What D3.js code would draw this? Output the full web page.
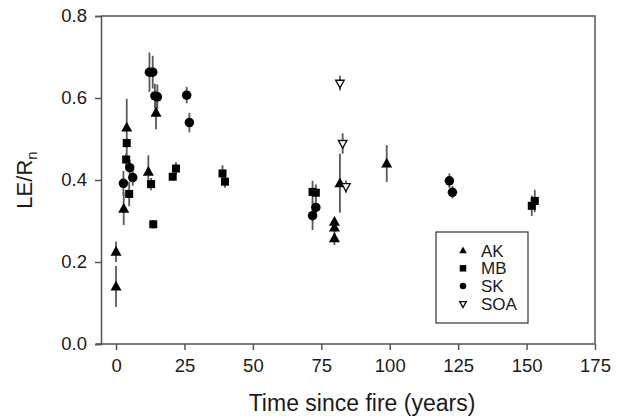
<!DOCTYPE html>
<html>
<head>
<meta charset="utf-8">
<script src="https://cdn.jsdelivr.net/npm/d3@7"></script>
<style>
  html, body { margin: 0; padding: 0; background: #fff; }
  svg { display: block; font-family: "Liberation Sans", Arial, sans-serif; }
</style>
</head>
<body>
<svg id="chart" width="625" height="418"></svg>
<script>
// ---- Data (time since fire in years, LE/Rn, standard error) ----
const akTime  = [0, 0, 2.8, 3.9, 11.8, 14.6, 79.8, 79.8, 79.8, 81.8, 98.9];
const akValue = [0.225, 0.14, 0.33, 0.528, 0.42, 0.564, 0.298, 0.284, 0.258, 0.392, 0.44];
const akErr   = [0.025, 0.05, 0.04, 0.07, 0.04, 0.04, 0.01, 0.01, 0.017, 0.072, 0.045];

const mbTime  = [3.9, 3.7, 4.8, 12.8, 13.6, 20.7, 21.9, 38.9, 39.8, 71.8, 73, 151.9, 153];
const mbValue = [0.49, 0.45, 0.366, 0.39, 0.292, 0.408, 0.428, 0.416, 0.396, 0.371, 0.369, 0.337, 0.349];
const mbErr   = [0.012, 0.015, 0.03, 0.015, 0.01, 0.01, 0.015, 0.02, 0.015, 0.027, 0.02, 0.025, 0.027];

const skTime  = [2.7, 5, 6.1, 12.2, 13.4, 14.2, 15.1, 25.8, 26.8, 71.8, 73, 121.8, 122.9];
const skValue = [0.392, 0.43, 0.406, 0.663, 0.663, 0.605, 0.603, 0.607, 0.54, 0.313, 0.333, 0.398, 0.37];
const skErr   = [0.03, 0.02, 0.02, 0.048, 0.04, 0.03, 0.03, 0.02, 0.024, 0.035, 0.02, 0.018, 0.015];

const soaTime  = [81.8, 82.8, 84];
const soaValue = [0.636, 0.489, 0.384];
const soaErr   = [0.018, 0.025, 0.015];

const xTicks = [0, 25, 50, 75, 100, 125, 150, 175];
const yTicks = [0.0, 0.2, 0.4, 0.6, 0.8];
const seriesNames = ["AK", "MB", "SK", "SOA"];

// ---- Layout ----
const svg = d3.select("#chart");
const pLeft = 101, pRight = 595, pTop = 16, pBottom = 344;
const x = d3.scaleLinear().domain([-5.5, 175]).range([pLeft, pRight]);
const y = d3.scaleLinear().domain([0, 0.8]).range([pBottom, pTop]);

const axisColor = "#555";
const textColor = "#1a1a1a";

// Frame (top and right edges)
svg.append("path")
  .attr("d", `M${pLeft},${pTop}H${pRight}V${pBottom}`)
  .attr("fill", "none").attr("stroke", axisColor).attr("stroke-width", 1.5);

// Axes
const xAxis = svg.append("g").attr("transform", `translate(0,${pBottom})`)
  .call(d3.axisBottom(x).tickValues(xTicks).tickSizeOuter(0).tickSize(6).tickPadding(9).tickFormat(d3.format("d")));
const yAxis = svg.append("g").attr("transform", `translate(${pLeft},0)`)
  .call(d3.axisLeft(y).tickValues(yTicks).tickSizeOuter(0).tickSize(6).tickPadding(8).tickFormat(d3.format(".1f")));
[xAxis, yAxis].forEach(g => {
  g.select(".domain").attr("stroke", axisColor).attr("stroke-width", 1.5);
  g.selectAll(".tick line").attr("stroke", axisColor).attr("stroke-width", 1.5);
  g.selectAll(".tick text").attr("fill", textColor).style("font-size", "18.5px")
    .style("font-family", "'Liberation Sans', Arial, sans-serif");
});
xAxis.select(".domain").attr("d", `M${pLeft - 5},0H${pRight}`);

// Axis titles
svg.append("text")
  .attr("x", (pLeft + pRight) / 2 + 14).attr("y", 411)
  .attr("text-anchor", "middle").attr("fill", textColor)
  .style("font-size", "23px")
  .text("Time since fire (years)");

const yt = svg.append("text")
  .attr("transform", `translate(32,${(pTop + pBottom) / 2}) rotate(-90)`)
  .attr("text-anchor", "middle").attr("fill", textColor)
  .style("font-size", "22px");
yt.append("tspan").text("LE/R");
yt.append("tspan").attr("dy", 5).style("font-size", "15px").text("n");

// ---- Series ----
function pack(t, v, e) { return t.map((d, i) => ({ t: d, v: v[i], e: e[i] })); }
const series = [
  { name: "AK", data: pack(akTime, akValue, akErr), shape: "tri" },
  { name: "MB", data: pack(mbTime, mbValue, mbErr), shape: "sq" },
  { name: "SK", data: pack(skTime, skValue, skErr), shape: "circ" },
  { name: "SOA", data: pack(soaTime, soaValue, soaErr), shape: "dtri" }
];

function drawShape(g, shape, s) {
  if (shape === "tri") {
    g.append("path").attr("d", `M0,${-s * 0.62}L${s * 0.58},${s * 0.42}L${-s * 0.58},${s * 0.42}Z`).attr("fill", "#000");
  } else if (shape === "sq") {
    g.append("rect").attr("x", -s / 2).attr("y", -s / 2).attr("width", s).attr("height", s).attr("fill", "#000");
  } else if (shape === "circ") {
    g.append("circle").attr("r", s / 2).attr("fill", "#000");
  } else {
    g.append("path").attr("d", `M0,${s * 0.55}L${s * 0.5},${-s * 0.35}L${-s * 0.5},${-s * 0.35}Z`)
      .attr("fill", "#fff").attr("stroke", "#111").attr("stroke-width", 1.4);
  }
}

const plot = svg.append("g");
series.forEach(sr => {
  plot.selectAll(null).data(sr.data).enter().append("line")
    .attr("x1", d => x(d.t)).attr("x2", d => x(d.t))
    .attr("y1", d => y(d.v - d.e)).attr("y2", d => y(d.v + d.e))
    .attr("stroke", "#5a5a5a").attr("stroke-width", 1.8);
});
series.forEach(sr => {
  plot.selectAll(null).data(sr.data).enter().append("g")
    .attr("transform", d => `translate(${x(d.t)},${y(d.v)})`)
    .each(function () { drawShape(d3.select(this), sr.shape, sr.shape === "sq" ? 8 : (sr.shape === "dtri" ? 8.5 : 9.5)); });
});

// ---- Legend ----
const lg = svg.append("g");
lg.append("rect").attr("x", 436).attr("y", 232).attr("width", 92).attr("height", 91)
  .attr("fill", "#fff").attr("stroke", "#333").attr("stroke-width", 1.2);
series.forEach((sr, i) => {
  const cy = 250.5 + i * 17.8;
  const g = lg.append("g").attr("transform", `translate(463,${cy})`);
  drawShape(g, sr.shape, 6.5);
  lg.append("text").attr("x", 481).attr("y", cy + 6).attr("fill", textColor)
    .style("font-size", "17px").text(sr.name);
});
</script>
</body>
</html>
